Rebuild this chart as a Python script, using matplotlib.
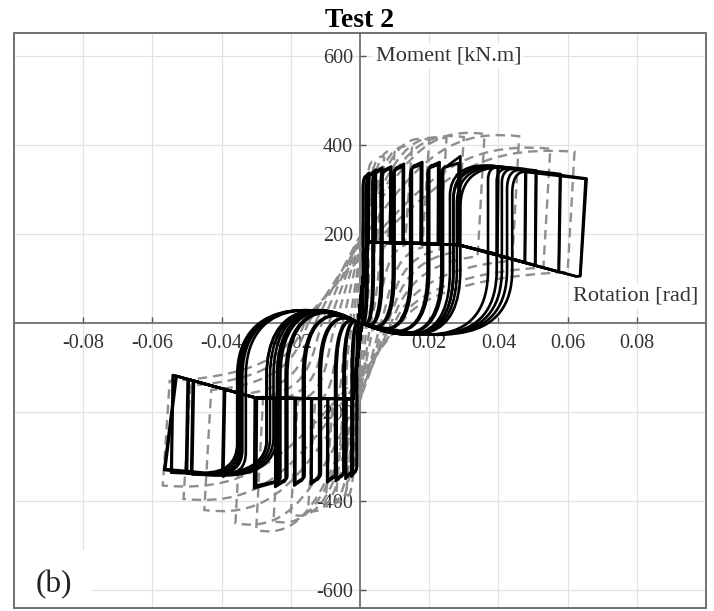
import numpy as np
import matplotlib
matplotlib.use("Agg")
import matplotlib.pyplot as plt
from matplotlib.path import Path
from matplotlib.patches import PathPatch, Rectangle

plt.rcParams['font.family'] = ['Liberation Serif', 'DejaVu Serif']

# numerical model, positive excursions (rotation [rad], moment [kN.m])
# two cycles per amplitude: first 13 entries, then the repeated cycles
bp_peak_rot = [0.0026, 0.0046, 0.0064, 0.0090, 0.0127, 0.0180, 0.0230, 0.0290, 0.0400, 0.0480, 0.0510, 0.0580, 0.0655,
               0.0024, 0.0044, 0.0062, 0.0088, 0.0124, 0.0176, 0.0226, 0.0285, 0.0398, 0.0478, 0.0508, 0.0578, 0.0652]
bp_peak_mom = [338, 345, 350, 352, 358, 362, 362, 375, 352, 346, 343, 335, 325,
               335, 340, 345, 348, 352, 355, 356, 360, 350, 345, 342, 334, 324]
bp_load_rot = [0.0010, 0.0022, 0.0040, 0.0065, 0.0100, 0.0150, 0.0200, 0.0240, 0.0260, 0.0270, 0.0270, 0.0280, 0.0290,
               0.0008, 0.0018, 0.0036, 0.0060, 0.0095, 0.0145, 0.0195, 0.0235, 0.0370, 0.0395, 0.0410, 0.0425, 0.0440]
bp_load_mom = [310, 318, 322, 328, 335, 340, 342, 340, 285, 280, 275, 268, 260,
               300, 305, 312, 318, 325, 330, 332, 330, 320, 318, 315, 300, 290]
bp_knee_rot = [0.0016, 0.0030, 0.0048, 0.0072, 0.0108, 0.0160, 0.0210, 0.0250, 0.0360, 0.0375, 0.0385, 0.0395, 0.0405,
               0.0014, 0.0026, 0.0044, 0.0068, 0.0104, 0.0156, 0.0206, 0.0246, 0.0395, 0.0430, 0.0445, 0.0460, 0.0475]
bp_knee_mom = [330, 335, 342, 345, 350, 355, 355, 352, 354, 354, 353, 352, 350,
               325, 330, 336, 340, 345, 350, 350, 350, 350, 348, 347, 344, 340]
bp_unload_rot = [0.0025, 0.0045, 0.0063, 0.0089, 0.0126, 0.0179, 0.0229, 0.0288, 0.0397, 0.0477, 0.0507, 0.0575, 0.0637,
                 0.0023, 0.0043, 0.0061, 0.0087, 0.0123, 0.0175, 0.0225, 0.0283, 0.0396, 0.0476, 0.0506, 0.0574, 0.0636]
bp_unload_mom = [182, 182, 181, 181, 180, 180, 179, 176, 155, 137, 130, 115, 106,
                 182, 182, 181, 181, 180, 180, 179, 176, 155, 137, 130, 115, 106]

# numerical model, negative excursions
bn_peak_rot = [-0.0025, -0.0042, -0.0070, -0.0095, -0.0142, -0.0190, -0.0245, -0.0306, -0.0395, -0.0485, -0.0500, -0.0546, -0.0566,
               -0.0023, -0.0040, -0.0068, -0.0093, -0.0140, -0.0187, -0.0240, -0.0300, -0.0398, -0.0488, -0.0503, -0.0544, -0.0563]
bn_peak_mom = [-345, -350, -355, -358, -362, -365, -368, -371, -345, -340, -338, -336, -330,
               -340, -345, -350, -353, -357, -360, -362, -365, -342, -338, -336, -334, -328]
bn_load_rot = [-0.0010, -0.0024, -0.0048, -0.0072, -0.0118, -0.0165, -0.0215, -0.0236, -0.0240, -0.0250, -0.0260, -0.0270, -0.0270,
               -0.0008, -0.0020, -0.0044, -0.0068, -0.0113, -0.0160, -0.0210, -0.0230, -0.0330, -0.0340, -0.0345, -0.0350, -0.0355]
bn_load_mom = [-320, -325, -330, -335, -340, -345, -348, -350, -250, -255, -258, -262, -265,
               -315, -320, -325, -330, -335, -340, -342, -345, -290, -285, -280, -275, -270]
bn_knee_rot = [-0.0015, -0.0030, -0.0055, -0.0078, -0.0125, -0.0172, -0.0222, -0.0245, -0.0390, -0.0410, -0.0420, -0.0430, -0.0440,
               -0.0013, -0.0027, -0.0051, -0.0075, -0.0121, -0.0168, -0.0218, -0.0240, -0.0390, -0.0420, -0.0430, -0.0440, -0.0450]
bn_knee_mom = [-335, -340, -345, -348, -352, -355, -357, -358, -342, -342, -342, -340, -340,
               -330, -335, -340, -343, -347, -350, -352, -355, -340, -340, -340, -338, -336]
bn_unload_rot = [-0.0024, -0.0041, -0.0069, -0.0094, -0.0141, -0.0189, -0.0244, -0.0304, -0.0390, -0.0480, -0.0495, -0.0540, -0.0532,
                 -0.0022, -0.0039, -0.0067, -0.0092, -0.0139, -0.0186, -0.0239, -0.0298, -0.0393, -0.0483, -0.0498, -0.0541, -0.0530]
bn_unload_mom = [-170, -170, -170, -170, -170, -169, -169, -168, -149, -130, -127, -117, -119,
                 -170, -170, -170, -170, -170, -169, -169, -168, -148, -129, -126, -117, -119]

# pinching branches of the model
pos_pinch_rot = [0.0625, 0.0285, 0.0020]
pos_pinch_mom = [105, 176, 182]
neg_pinch_rot = [-0.0530, -0.0300, -0.0020]
neg_pinch_mom = [-119, -168, -170]

# test results (grey dashed)
gp_peak_rot = [0.004, 0.007, 0.010, 0.015, 0.020, 0.025, 0.030, 0.036, 0.046, 0.055, 0.062]
gp_peak_mom = [360, 372, 385, 395, 412, 415, 418, 425, 420, 392, 385]
gp_cross_rot = [-0.001, -0.002, -0.003, -0.005, -0.007, -0.009, -0.011, -0.013, -0.015, -0.016, -0.017]
gp_unload_mom = [200, 190, 180, 175, 170, 165, 160, 150, 140, 125, 115]
gn_peak_rot = [-0.004, -0.007, -0.010, -0.015, -0.020, -0.025, -0.030, -0.036, -0.045, -0.051, -0.057]
gn_peak_mom = [-385, -400, -410, -420, -430, -445, -465, -450, -420, -395, -365]
gn_cross_rot = [0.001, 0.002, 0.003, 0.004, 0.006, 0.007, 0.008, 0.009, 0.010, 0.011, 0.012]
gn_unload_mom = [-210, -200, -190, -180, -175, -170, -165, -160, -150, -140, -130]

x_ticks = [-0.08, -0.06, -0.04, -0.02, 0.02, 0.04, 0.06, 0.08]
x_tick_labels = ['-0.08', '-0.06', '-0.04', '-0.02', '0.02', '0.04', '0.06', '0.08']
y_ticks = [-600, -400, -200, 200, 400, 600]
y_tick_labels = ['-600', '-400', '-200', '200', '400', '600']

M, L, C = Path.MOVETO, Path.LINETO, Path.CURVE4


def model_loop(i):
    tl, ml = bp_load_rot[i], bp_load_mom[i]
    tk, mk = bp_knee_rot[i], bp_knee_mom[i]
    nl, nml = bn_load_rot[i], bn_load_mom[i]
    nk, nmk = bn_knee_rot[i], bn_knee_mom[i]
    # the pinched part sags deeper for the wider cycles
    dip_p = -45 * min(1.0, tl / 0.025)
    dip_n = 50 * min(1.0, -nl / 0.025)
    v = [(0.0005, 0)]
    c = [M]
    # pinched reloading, vertical rise, rounded knee, hardening branch
    v += [(0.55 * tl, dip_p), (tl, dip_p), (tl, 120)]; c += [C] * 3
    v += [(tl, ml)]; c += [L]
    v += [(tl, ml + 0.7 * (mk - ml)), (tl + 0.4 * (tk - tl), mk), (tk, mk)]; c += [C] * 3
    v += [(bp_peak_rot[i], bp_peak_mom[i]), (bp_unload_rot[i], bp_unload_mom[i])]; c += [L] * 2
    for r, m in zip(pos_pinch_rot, pos_pinch_mom):
        if r < bp_unload_rot[i] - 0.0005:
            v.append((r, m)); c.append(L)
    v.append((-0.0005, 0)); c.append(L)
    # negative half
    v += [(0.4 * nl, dip_n), (nl, dip_n), (nl, -120)]; c += [C] * 3
    v += [(nl, nml)]; c += [L]
    v += [(nl, nml + 0.7 * (nmk - nml)), (nl + 0.4 * (nk - nl), nmk), (nk, nmk)]; c += [C] * 3
    v += [(bn_peak_rot[i], bn_peak_mom[i]), (bn_unload_rot[i], bn_unload_mom[i])]; c += [L] * 2
    for r, m in zip(neg_pinch_rot, neg_pinch_mom):
        if r > bn_unload_rot[i] + 0.0005:
            v.append((r, m)); c.append(L)
    v.append((0.0005, 0)); c.append(L)
    return Path(v, c)


def test_loop(i):
    cp, tp, mp, up = gp_cross_rot[i], gp_peak_rot[i], gp_peak_mom[i], gp_unload_mom[i]
    cn, tn, mn, un = gn_cross_rot[i], gn_peak_rot[i], gn_peak_mom[i], gn_unload_mom[i]
    v = [(cp, 0)]
    c = [M]
    v += [(cp + 0.45 * (tp - cp), 0.8 * mp), (cp + 0.6 * (tp - cp), 1.05 * mp), (tp, mp)]; c += [C] * 3
    v += [(tp - 0.002, up)]; c += [L]
    v += [(0.45 * tp, 0.9 * up), (cn + 0.003, 0.4 * up), (cn, 0)]; c += [C] * 3
    v += [(cn + 0.45 * (tn - cn), 0.8 * mn), (cn + 0.6 * (tn - cn), 1.05 * mn), (tn, mn)]; c += [C] * 3
    v += [(tn + 0.002, un)]; c += [L]
    v += [(0.45 * tn, 0.9 * un), (cp - 0.003, 0.4 * un), (cp, 0)]; c += [C] * 3
    return Path(v, c)


fig = plt.figure(figsize=(7.14, 6.11), dpi=100)
ax = fig.add_axes([0.0196, 0.005, 0.9692, 0.941])

for i in range(len(gp_peak_rot)):
    ax.add_patch(PathPatch(test_loop(i), fill=False, ec='#8e8e8e', lw=1.7,
                           linestyle=(0, (4, 2.5)), zorder=2))
for i in range(len(bp_peak_rot)):
    ax.add_patch(PathPatch(model_loop(i), fill=False, ec='black', lw=1.9,
                           joinstyle='round', zorder=3))

ax.set_xlim(-0.1, 0.1)
ax.set_ylim(-640, 652)

ax.set_xticks(x_ticks)
ax.set_xticklabels(x_tick_labels)
ax.set_yticks(y_ticks)
ax.set_yticklabels(y_tick_labels)
ax.tick_params(axis='both', direction='in', length=4, width=1, color='#555555',
               labelsize=14.5, labelcolor='#333333')
ax.tick_params(axis='x', pad=8)
ax.tick_params(axis='y', pad=5)
ax.grid(True, color='#e2e2e2', lw=0.9)
ax.set_axisbelow(True)

for side in ['left', 'bottom']:
    ax.spines[side].set_position(('data', 0))
    ax.spines[side].set_color('#707070')
    ax.spines[side].set_linewidth(1.3)
    ax.spines[side].set_zorder(1.5)
for side in ['top', 'right']:
    ax.spines[side].set_visible(False)
ax.add_patch(Rectangle((0, 0), 1, 1, transform=ax.transAxes, fill=False,
                       ec='#707070', lw=1.4, zorder=5, clip_on=False))

ax.text(0.0045, 600, 'Moment [kN.m]', ha='left', va='center', fontsize=16,
        color='#333333', zorder=4,
        bbox=dict(boxstyle='square,pad=0.1', fc='white', ec='none'))
ax.text(0.0977, 61, 'Rotation [rad]', ha='right', va='center', fontsize=16,
        color='#333333', zorder=4,
        bbox=dict(boxstyle='square,pad=0.1', fc='white', ec='none'))
ax.text(-0.0885, -588, '(b)', ha='center', va='center', fontsize=22.5,
        color='#222222', zorder=4,
        bbox=dict(boxstyle='square,pad=0.65', fc='white', ec='none'))

ax.set_title('Test 2', fontsize=20, fontweight='bold', pad=4)

fig.savefig('out.png', dpi=100)
